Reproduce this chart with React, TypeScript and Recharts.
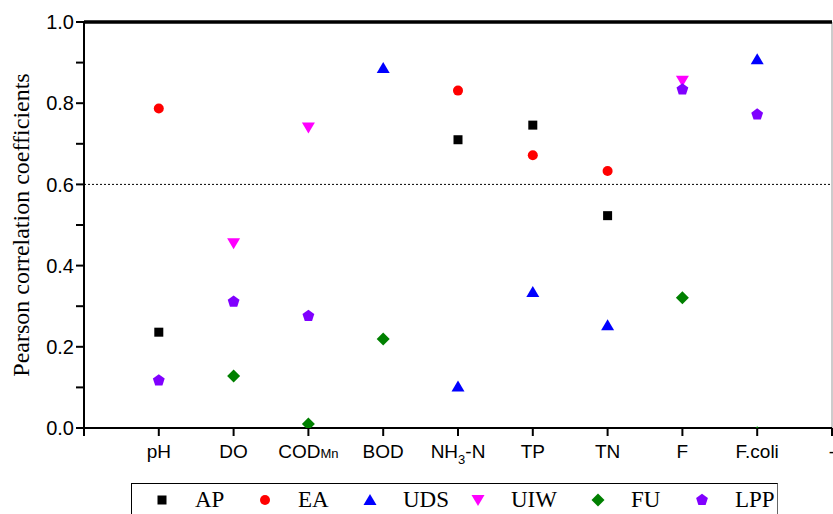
import React from 'react';
import {
  ScatterChart,
  Scatter,
  XAxis,
  YAxis,
  ReferenceLine,
} from 'recharts';

// water quality parameters (x categories)
const categories = ['pH', 'DO', 'COD_Mn', 'BOD', 'NH3-N', 'TP', 'TN', 'F', 'F.coli'];
const xTicks = [0, 1, 2, 3, 4, 5, 6, 7, 8, 9, 10];
const xTickLabels = ['', ...categories, '-'];
const yTicks = [0, 0.1, 0.2, 0.3, 0.4, 0.5, 0.6, 0.7, 0.8, 0.9, 1.0];
const threshold = 0.6;

// Pearson coefficients per land-use type, null = not shown
const AP = [0.236, null, null, null, 0.71, 0.746, 0.523, null, null];
const EA = [0.787, null, null, null, 0.831, 0.672, 0.633, null, null];
const UDS = [null, null, null, 0.887, 0.102, 0.335, 0.253, null, 0.908];
const UIW = [null, 0.455, 0.74, null, null, null, null, 0.855, null];
const FU = [null, 0.128, 0.01, 0.219, null, null, null, 0.321, -0.012];
const LPP = [0.117, 0.311, 0.276, null, null, null, null, 0.834, 0.772];

type ShapeKind = 'square' | 'circle' | 'up' | 'down' | 'diamond' | 'pentagon';

const drawShape = (kind: ShapeKind, cx: number, cy: number, fill: string) => {
  switch (kind) {
    case 'square':
      return <rect x={cx - 4.5} y={cy - 4.5} width={9} height={9} fill={fill} />;
    case 'circle':
      return <circle cx={cx} cy={cy} r={5} fill={fill} />;
    case 'up':
      return (
        <polygon
          points={`${cx},${cy - 6} ${cx + 6.5},${cy + 5} ${cx - 6.5},${cy + 5}`}
          fill={fill}
        />
      );
    case 'down':
      return (
        <polygon
          points={`${cx - 6.5},${cy - 5} ${cx + 6.5},${cy - 5} ${cx},${cy + 6}`}
          fill={fill}
        />
      );
    case 'diamond':
      return (
        <polygon
          points={`${cx},${cy - 6.5} ${cx + 6.5},${cy} ${cx},${cy + 6.5} ${cx - 6.5},${cy}`}
          fill={fill}
        />
      );
    case 'pentagon': {
      const pts = [0, 1, 2, 3, 4]
        .map((k) => {
          const a = ((-90 + k * 72) * Math.PI) / 180;
          return `${cx + 6.2 * Math.cos(a)},${cy + 6.2 * Math.sin(a)}`;
        })
        .join(' ');
      return <polygon points={pts} fill={fill} />;
    }
  }
};

const series: { name: string; values: (number | null)[]; color: string; shape: ShapeKind }[] = [
  { name: 'AP', values: AP, color: '#000000', shape: 'square' },
  { name: 'EA', values: EA, color: '#FF0000', shape: 'circle' },
  { name: 'UDS', values: UDS, color: '#0000FF', shape: 'up' },
  { name: 'UIW', values: UIW, color: '#FF00FF', shape: 'down' },
  { name: 'FU', values: FU, color: '#008000', shape: 'diamond' },
  { name: 'LPP', values: LPP, color: '#8000FF', shape: 'pentagon' },
];

const legendWidths = [103, 105, 108, 120, 104, 90];

const XTick = (props: any) => {
  const { x, y, payload } = props;
  const label = xTickLabels[payload.value] ?? '';
  const common = {
    x,
    y: y + 20,
    textAnchor: 'middle' as const,
    fontFamily: 'Liberation Sans, Arial, sans-serif',
    fontSize: 19,
    fill: '#000',
  };
  if (label === 'COD_Mn') {
    return (
      <text {...common}>
        <tspan>COD</tspan>
        <tspan fontSize={13}>Mn</tspan>
      </text>
    );
  }
  if (label === 'NH3-N') {
    return (
      <text {...common}>
        <tspan>NH</tspan>
        <tspan fontSize={13} dy={6}>3</tspan>
        <tspan dy={-6}>-N</tspan>
      </text>
    );
  }
  return <text {...common}>{label}</text>;
};

const App = () => {
  return (
    <div style={{ position: 'absolute', left: 0, top: 0, width: 833, height: 514, overflow: 'hidden', background: '#fff' }}>
      <ScatterChart width={833} height={514} margin={{ top: 22, right: 1, bottom: 0, left: 0 }}>
        <ReferenceLine y={threshold} stroke="#000" strokeWidth={1} strokeDasharray="2 2" />
        <ReferenceLine x={10} stroke="#999999" strokeWidth={1} ifOverflow="visible" />
        {series.map((s) => (
          <Scatter
            key={s.name}
            name={s.name}
            data={s.values
              .map((v, i) => (v == null ? null : { x: i + 1, y: v }))
              .filter((d): d is { x: number; y: number } => d !== null)}
            fill={s.color}
            isAnimationActive={false}
            shape={(p: any) => drawShape(s.shape, p.cx, p.cy, s.color)}
          />
        ))}
        {/* thick top frame line */}
        <ReferenceLine y={1} stroke="#000000" strokeWidth={3.5} ifOverflow="visible" />
        <XAxis
          type="number"
          dataKey="x"
          domain={[0, 10]}
          ticks={xTicks}
          interval={0}
          height={86}
          stroke="#000"
          axisLine={{ stroke: '#000', strokeWidth: 2 }}
          tickLine={{ stroke: '#000', strokeWidth: 2 }}
          tickSize={8}
          tick={<XTick />}
          allowDataOverflow
        />
        <YAxis
          type="number"
          dataKey="y"
          domain={[0, 1]}
          ticks={yTicks}
          interval={0}
          width={84}
          allowDataOverflow
          stroke="#000"
          axisLine={{ stroke: '#000', strokeWidth: 2 }}
          tickLine={{ stroke: '#000', strokeWidth: 2 }}
          tickSize={8}
          tickMargin={2}
          tick={{ fill: '#000', fontSize: 20, fontFamily: 'Liberation Sans, Arial, sans-serif' }}
          tickFormatter={(v: number) => (Math.round(v * 10) % 2 === 0 ? v.toFixed(1) : '')}
          label={{
            content: () => (
              <text
                x={29}
                y={225}
                transform="rotate(-90, 29, 225)"
                textAnchor="middle"
                fontFamily="Liberation Serif, Times New Roman, serif"
                fontSize={24}
                fill="#000"
              >
                Pearson correlation coefficients
              </text>
            ),
          }}
        />
      </ScatterChart>
      <div
        style={{
          position: 'absolute',
          left: 131,
          top: 483,
          width: 647,
          height: 40,
          border: '1.5px solid #000',
          borderRightColor: '#666',
          boxSizing: 'border-box',
          display: 'flex',
          alignItems: 'center',
          paddingLeft: 20,
          paddingBottom: 6,
          fontFamily: 'Liberation Serif, Times New Roman, serif',
          fontSize: 23,
          color: '#000',
        }}
      >
        {series.map((s, i) => (
          <div key={s.name} style={{ display: 'flex', alignItems: 'center', width: legendWidths[i], flexShrink: 0 }}>
            <svg width={20} height={20} style={{ display: 'block', flexShrink: 0 }}>
              {drawShape(s.shape, 10, 10, s.color)}
            </svg>
            <span style={{ marginLeft: 23 }}>{s.name}</span>
          </div>
        ))}
      </div>
    </div>
  );
};

export default App;
